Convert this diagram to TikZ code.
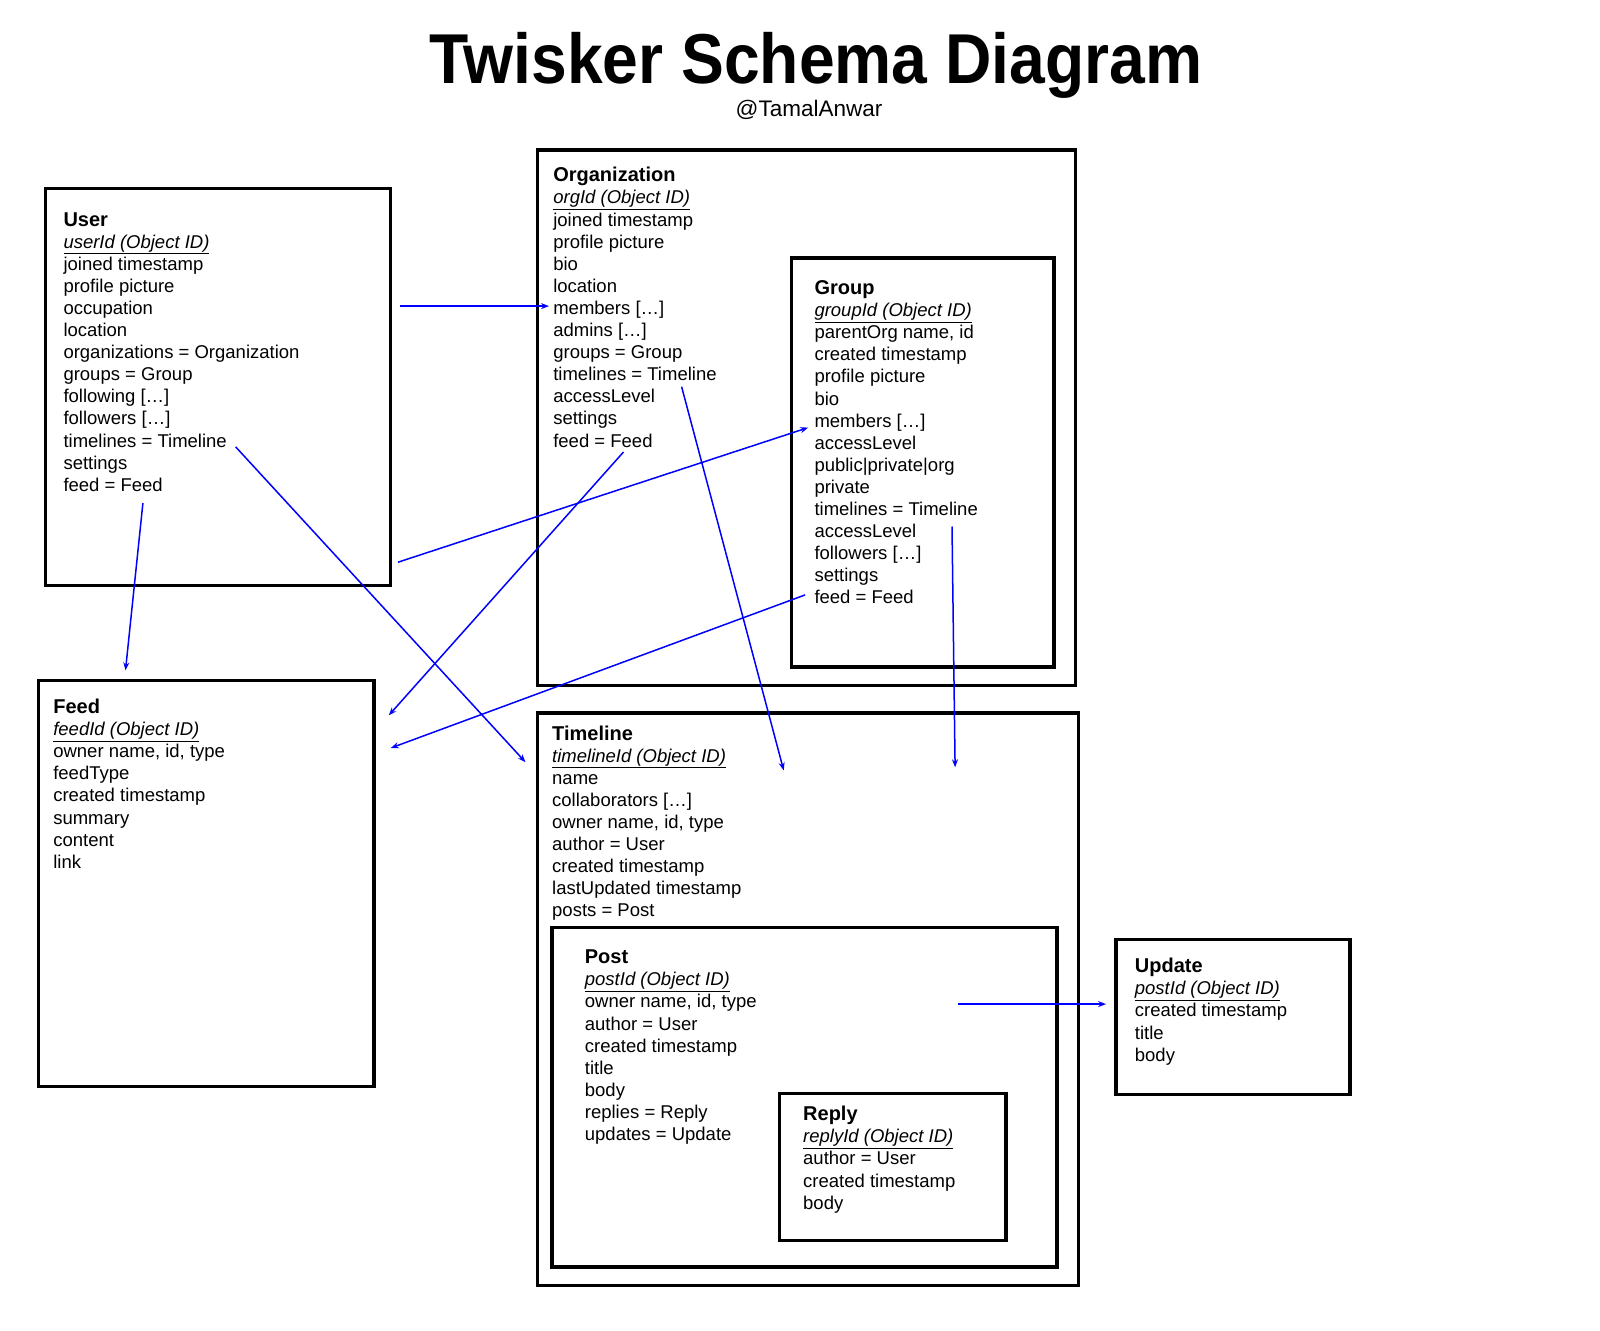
\documentclass[tikz,border=0pt]{standalone}
\usepackage{fontspec}
\setmainfont{Liberation Sans}
\usepackage{graphicx}
\usetikzlibrary{arrows.meta}
\newcommand{\oid}[1]{\underline{\textit{#1 (Object ID)}}}
\newcommand{\head}[1]{{\fontsize{20}{22.1}\selectfont\bfseries #1}}

\begin{document}
\begin{tikzpicture}[x=1pt,y=-1pt,
    entity/.style={draw,line width=3.5pt,inner sep=0,anchor=north west},
    fields/.style={anchor=north west,inner sep=0,align=left,font=\fontsize{18.5}{22.1}\selectfont},
    link/.style={draw=blue,line width=1.5pt,-{Stealth[length=8pt,width=6pt]}}]
  \useasboundingbox (0,0) rectangle (1600,1330);

  \node[anchor=base] (title) at (815.8,83.7) {\fontsize{64.2}{70}\selectfont\bfseries\scalebox{1}[1.1]{Twisker Schema Diagram}};
  \node[anchor=base] (handle) at (809,116.3) {\fontsize{22.5}{26}\selectfont @TamalAnwar};

  % boxes
  \node[entity,minimum width=344.9pt,minimum height=397pt] (user) at (43.9,186.7) {};
  \node[entity,minimum width=537.8pt,minimum height=535.7pt] (org) at (535.7,148) {};
  \node[entity,minimum width=262.2pt,minimum height=409.3pt] (group) at (789.8,256) {};
  \node[entity,minimum width=335.7pt,minimum height=406.1pt] (feed) at (36.7,678.6) {};
  \node[entity,minimum width=540.8pt,minimum height=572.5pt] (timeline) at (535.7,711.2) {};
  \node[entity,minimum width=505.1pt,minimum height=339.8pt] (post) at (550,925.5) {};
  \node[entity,minimum width=226.4pt,minimum height=147pt] (reply) at (777.6,1091.8) {};
  \node[entity,minimum width=233.7pt,minimum height=155.1pt] (update) at (1114.3,937.8) {};

  % fields
  \node[fields] (userf) at (63.3,212.1) {\head{User}\\ \oid{userId}\\ joined timestamp\\ profile picture\\ occupation\\ location\\ organizations = Organization\\ groups = Group\\ following […]\\ followers […]\\ timelines = Timeline\\ settings\\ feed = Feed};
  \node[fields] (orgf) at (553.1,167.2) {\head{Organization}\\ \oid{orgId}\\ joined timestamp\\ profile picture\\ bio\\ location\\ members […]\\ admins […]\\ groups = Group\\ timelines = Timeline\\ accessLevel\\ settings\\ feed = Feed};
  \node[fields] (groupf) at (814.3,280.4) {\head{Group}\\ \oid{groupId}\\ parentOrg name, id\\ created timestamp\\ profile picture\\ bio\\ members […]\\ accessLevel\\ public|private|org\\ private\\ timelines = Timeline\\ accessLevel\\ followers […]\\ settings\\ feed = Feed};
  \node[fields] (feedf) at (53.1,698.8) {\head{Feed}\\ \oid{feedId}\\ owner name, id, type\\ feedType\\ created timestamp\\ summary\\ content\\ link};
  \node[fields] (timelinef) at (552,725.4) {\head{Timeline}\\ \oid{timelineId}\\ name\\ collaborators […]\\ owner name, id, type\\ author = User\\ created timestamp\\ lastUpdated timestamp\\ posts = Post};
  \node[fields] (postf) at (584.7,949.8) {\head{Post}\\ \oid{postId}\\ owner name, id, type\\ author = User\\ created timestamp\\ title\\ body\\ replies = Reply\\ updates = Update};
  \node[fields] (replyf) at (803,1106) {\head{Reply}\\ \oid{replyId}\\ author = User\\ created timestamp\\ body};
  \node[fields] (updatef) at (1134.7,958) {\head{Update}\\ \oid{postId}\\ created timestamp\\ title\\ body};

  % link ends
  \coordinate (u-orgs) at (400,306.1);
  \coordinate (org-members) at (549,306.1);
  \coordinate (u-groups) at (398,562.2);
  \coordinate (group-members) at (808.2,427.6);
  \coordinate (u-feed) at (142.9,503.1);
  \coordinate (feed-top) at (125.5,670.4);
  \coordinate (u-timelines) at (235.7,446.9);
  \coordinate (timeline-in) at (525.5,762.2);
  \coordinate (org-feed) at (623.5,452);
  \coordinate (feed-in1) at (388.8,715.3);
  \coordinate (group-feed) at (805.1,594.9);
  \coordinate (feed-in2) at (390.8,748);
  \coordinate (org-timelines) at (681.6,386.7);
  \coordinate (timeline-in1) at (783.7,770.4);
  \coordinate (group-timelines) at (952,526.5);
  \coordinate (timeline-in2) at (955.1,767.3);
  \coordinate (post-updates) at (958.2,1004.1);
  \coordinate (update-in) at (1106.1,1004.1);

  \draw[link] (u-orgs) -- (org-members);
  \draw[link] (u-groups) -- (group-members);
  \draw[link] (u-feed) -- (feed-top);
  \draw[link] (u-timelines) -- (timeline-in);
  \draw[link] (org-feed) -- (feed-in1);
  \draw[link] (group-feed) -- (feed-in2);
  \draw[link] (org-timelines) -- (timeline-in1);
  \draw[link] (group-timelines) -- (timeline-in2);
  \draw[link] (post-updates) -- (update-in);
\end{tikzpicture}
\end{document}
